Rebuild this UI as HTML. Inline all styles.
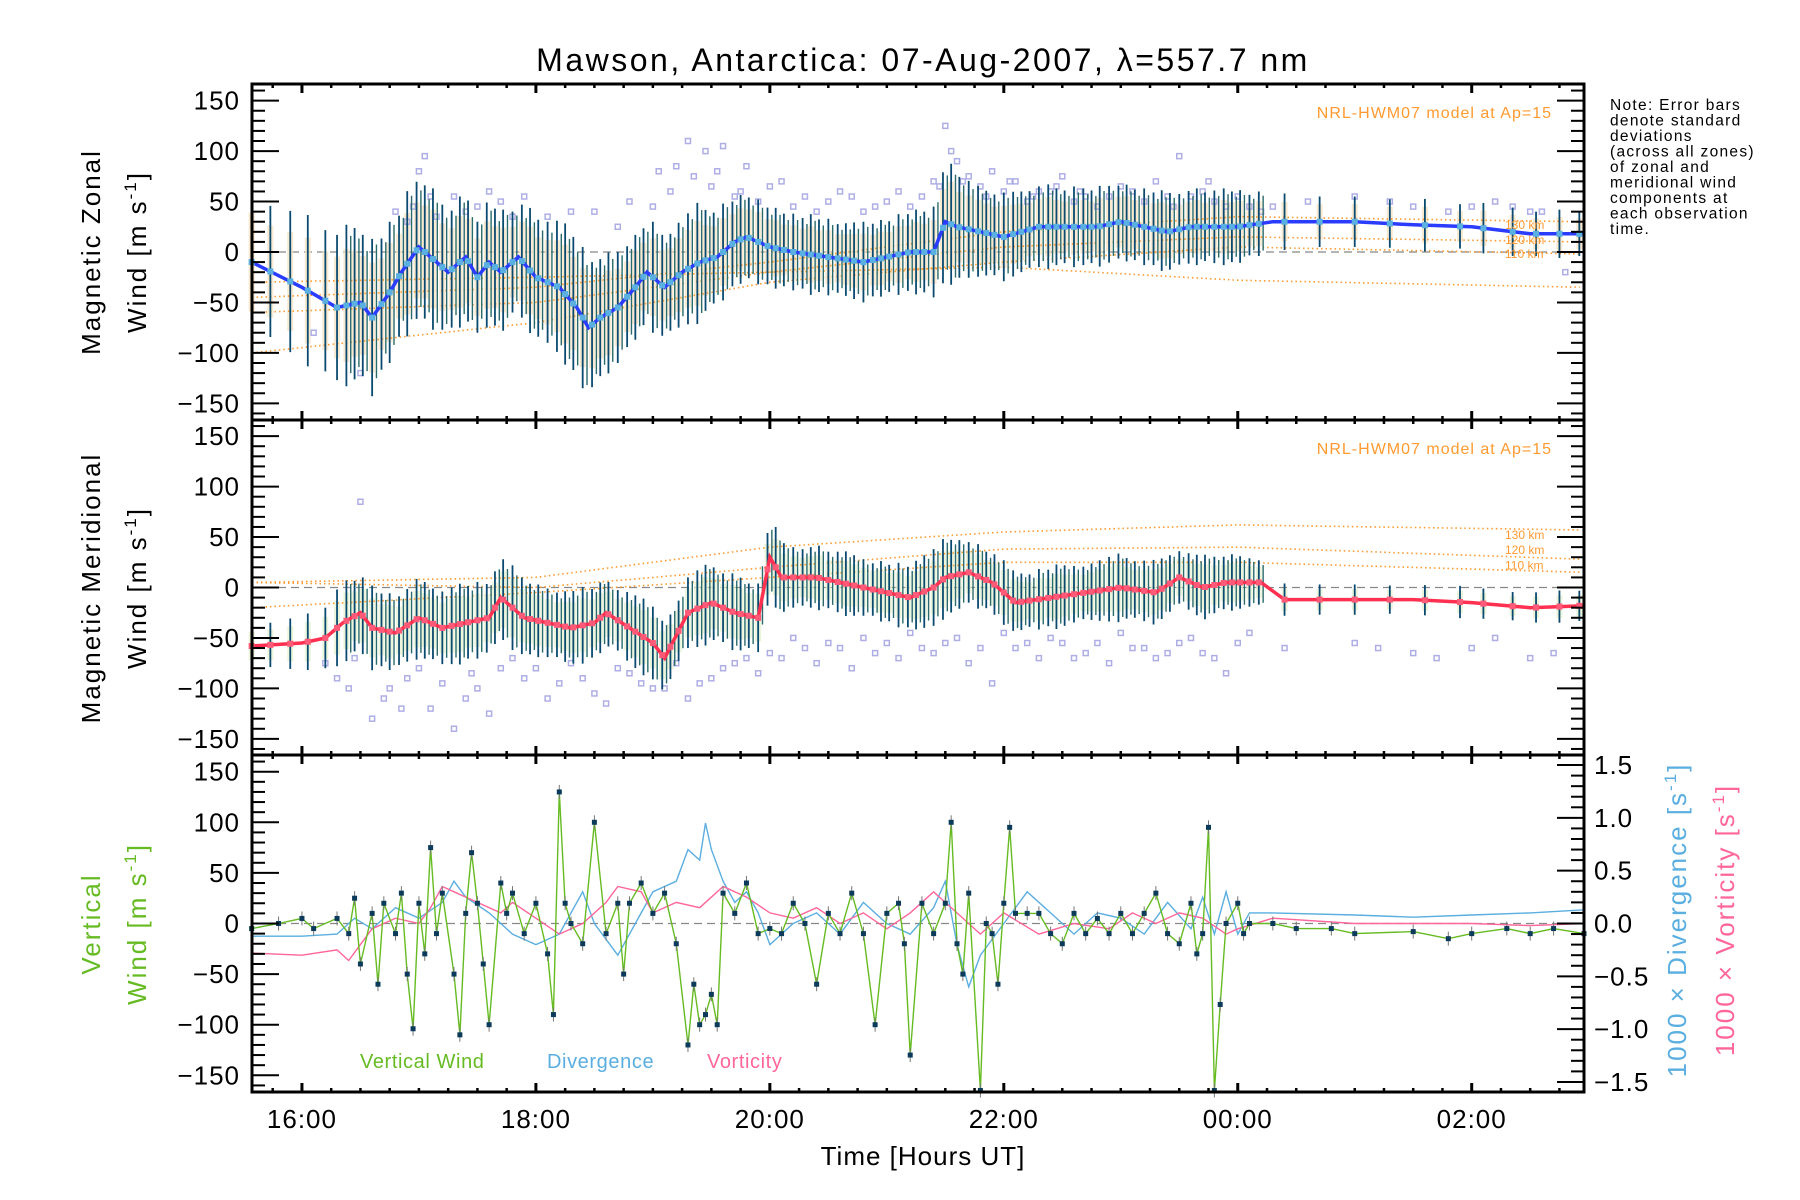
<!DOCTYPE html>
<html><head><meta charset="utf-8"><style>
body{margin:0;background:#fff;}
svg{display:block;font-family:"Liberation Sans",sans-serif;}
</style></head><body>
<svg id="chart" width="1800" height="1200" viewBox="0 0 1800 1200" xmlns="http://www.w3.org/2000/svg">
<rect width="1800" height="1200" fill="#fff"/>
<text x="923" y="71" font-size="32" letter-spacing="2.5" text-anchor="middle">Mawson, Antarctica: 07-Aug-2007, λ=557.7 nm</text>
<g id="plots"></g>
<text x="923" y="1165" font-size="26" letter-spacing="1" text-anchor="middle">Time [Hours UT]</text>
<g font-size="15.5" letter-spacing="1.3">
<text x="1610" y="110">Note: Error bars</text>
<text x="1610" y="125.5">denote standard</text>
<text x="1610" y="141">deviations</text>
<text x="1610" y="156.5">(across all zones)</text>
<text x="1610" y="172">of zonal and</text>
<text x="1610" y="187.5">meridional wind</text>
<text x="1610" y="203">components at</text>
<text x="1610" y="218.5">each observation</text>
<text x="1610" y="234">time.</text>
</g>
<text transform="translate(100,252) rotate(-90)" font-size="26" letter-spacing="2" text-anchor="middle">Magnetic Zonal</text>
<text transform="translate(146,252) rotate(-90)" font-size="26" letter-spacing="2" text-anchor="middle">Wind [m s<tspan font-size="17" dy="-10">-1</tspan><tspan dy="10">]</tspan></text>
<text transform="translate(100,588) rotate(-90)" font-size="26" letter-spacing="2" text-anchor="middle">Magnetic Meridional</text>
<text transform="translate(146,588) rotate(-90)" font-size="26" letter-spacing="2" text-anchor="middle">Wind [m s<tspan font-size="17" dy="-10">-1</tspan><tspan dy="10">]</tspan></text>
<text transform="translate(100,924) rotate(-90)" font-size="26" letter-spacing="2" text-anchor="middle" fill="#66bb22">Vertical</text>
<text transform="translate(146,924) rotate(-90)" font-size="26" letter-spacing="2" text-anchor="middle" fill="#66bb22">Wind [m s<tspan font-size="17" dy="-10">-1</tspan><tspan dy="10">]</tspan></text>
<text transform="translate(1686,920) rotate(-90)" font-size="26" letter-spacing="2" text-anchor="middle" fill="#5aaee0">1000 × Divergence [s<tspan font-size="17" dy="-10">-1</tspan><tspan dy="10">]</tspan></text>
<text transform="translate(1734,920) rotate(-90)" font-size="26" letter-spacing="2" text-anchor="middle" fill="#ff6699">1000 × Vorticity [s<tspan font-size="17" dy="-10">-1</tspan><tspan dy="10">]</tspan></text>
<text x="360" y="1068" font-size="20" letter-spacing="0.6" fill="#66bb22">Vertical Wind</text>
<text x="547" y="1068" font-size="20" letter-spacing="0.6" fill="#5aaee0">Divergence</text>
<text x="707" y="1068" font-size="20" letter-spacing="0.6" fill="#ff6699">Vorticity</text>
</svg>
<script>
const zonalT=[15.57,16.0,16.3,16.5,16.6,16.75,16.85,17.0,17.1,17.25,17.4,17.5,17.6,17.7,17.85,18.0,18.2,18.35,18.45,18.55,18.7,18.85,18.95,19.1,19.25,19.4,19.55,19.7,19.8,20.0,20.2,20.5,20.8,21.0,21.2,21.4,21.5,21.6,21.8,22.0,22.3,22.6,22.8,23.0,23.2,23.4,23.6,23.8,24.0,24.3,25.0,25.5,26.0,26.5,26.96];
const zonalV=[-10,-35,-55,-50,-65,-40,-20,5,-5,-20,-5,-25,-10,-20,-5,-25,-35,-55,-75,-65,-55,-35,-20,-35,-20,-10,-5,10,15,5,0,-5,-10,-5,0,0,30,25,20,15,25,25,25,30,25,20,25,25,25,30,30,27,25,18,18];
const merT=[15.57,16.0,16.2,16.35,16.5,16.6,16.8,17.0,17.2,17.4,17.6,17.7,17.9,18.1,18.3,18.5,18.6,18.8,19.0,19.1,19.3,19.5,19.7,19.9,20.0,20.1,20.4,20.8,21.2,21.4,21.5,21.7,21.9,22.1,22.4,22.7,23.0,23.3,23.5,23.7,23.9,24.0,24.2,24.4,25.0,25.5,26.0,26.5,26.96];
const merV=[-58,-55,-50,-35,-25,-40,-45,-30,-40,-35,-30,-10,-30,-35,-40,-35,-25,-40,-55,-70,-25,-15,-25,-30,30,10,10,0,-10,0,10,15,5,-15,-10,-5,0,-5,10,0,5,5,5,-12,-12,-12,-15,-20,-18];
const barT=[15.57,15.73,15.9,16.05,16.2,16.3,16.38,16.45,16.52,16.6,16.68,16.75,16.83,16.9,16.98,17.05,17.12,17.2,17.28,17.35,17.42,17.5,17.58,17.65,17.72,17.8,17.88,17.95,18.02,18.1,18.18,18.25,18.32,18.4,18.48,18.55,18.62,18.7,18.78,18.85,18.92,19.0,19.08,19.15,19.22,19.3,19.38,19.45,19.52,19.6,19.68,19.75,19.82,19.9,19.98,20.05,20.12,20.2,20.28,20.35,20.42,20.5,20.58,20.65,20.72,20.8,20.88,20.95,21.02,21.1,21.18,21.25,21.32,21.4,21.48,21.55,21.62,21.7,21.78,21.85,21.92,22.0,22.08,22.15,22.22,22.3,22.38,22.45,22.52,22.6,22.68,22.75,22.82,22.9,22.98,23.05,23.12,23.2,23.28,23.35,23.42,23.5,23.58,23.65,23.72,23.8,23.88,23.95,24.02,24.1,24.18,24.4,24.7,25.0,25.3,25.6,25.9,26.1,26.35,26.55,26.75,26.92];
const zonalStd=[70,65,70,75,70,72,80,75,70,78,65,70,60,72,68,66,70,62,58,65,60,55,62,58,60,50,56,62,58,60,65,70,66,70,62,58,60,55,50,52,48,55,50,48,52,55,60,50,45,48,42,44,40,42,38,40,36,38,35,40,36,38,34,36,38,40,36,38,35,40,38,42,40,45,55,60,50,48,45,42,40,44,42,40,38,40,42,38,36,40,38,36,40,38,36,38,35,38,36,40,38,35,36,38,34,36,38,35,36,30,32,28,25,25,24,26,22,25,24,22,24,22];
const merStd=[20,22,25,28,30,38,40,35,38,42,36,38,34,36,40,38,35,36,38,40,36,38,34,36,40,42,38,35,36,34,32,35,36,38,34,35,32,30,34,36,38,36,34,32,30,35,38,40,36,34,38,36,32,34,36,40,34,30,28,30,32,28,30,32,30,28,26,30,28,32,30,34,36,38,40,36,34,30,32,28,30,32,30,28,26,30,28,32,30,28,26,28,30,32,34,30,28,30,32,30,28,26,28,30,32,28,26,28,26,24,22,16,15,15,14,15,16,15,14,15,16,15];
const scatZT=[16.1,16.5,16.8,17.0,17.05,17.3,17.6,17.9,18.1,18.3,18.8,19.05,19.3,19.45,19.6,19.8,20.1,20.3,20.6,20.9,21.1,21.4,21.5,21.55,21.7,21.9,22.1,22.3,22.5,22.7,23.0,23.3,23.5,23.6,23.9,24.3,24.6,25.0,25.5,26.0,26.5,26.8,
16.9,16.95,17.1,17.15,17.4,17.5,17.7,17.8,18.5,18.7,19.0,19.15,19.2,19.35,19.5,19.55,19.7,19.75,19.9,20.0,20.2,20.4,20.5,20.7,20.8,21.0,21.2,21.3,21.45,21.6,21.65,21.8,21.85,22.0,22.05,22.2,22.25,22.4,22.45,22.6,22.65,22.8,22.9,23.1,23.2,23.4,23.45,23.7,23.75,23.8,24.0,24.1,24.2,25.3,25.8,26.2,26.35,26.6];
const scatZV=[-80,-120,40,80,95,55,60,55,35,40,50,80,110,100,105,85,70,55,60,45,60,70,125,100,75,80,70,60,75,55,65,70,95,55,45,45,50,55,45,45,40,-20,
30,45,55,35,40,45,50,35,40,25,45,60,85,75,65,80,55,60,50,65,45,40,50,55,40,50,45,55,65,90,70,65,55,60,70,50,55,60,65,50,60,45,55,60,50,55,45,60,70,50,55,45,40,50,40,50,45,40];
const scatMT=[16.2,16.4,16.5,16.6,16.7,16.9,17.1,17.3,17.5,17.7,17.9,18.1,18.3,18.5,18.7,18.9,19.1,19.3,19.5,19.7,19.9,20.1,20.3,20.5,20.7,20.9,21.1,21.3,21.5,21.7,21.9,22.1,22.3,22.5,22.7,22.9,23.1,23.3,23.5,23.7,23.9,24.4,25.0,25.5,26.0,26.5,
16.3,16.45,16.75,16.85,17.0,17.2,17.4,17.45,17.6,17.8,18.0,18.2,18.4,18.6,18.8,19.0,19.2,19.4,19.6,19.8,20.0,20.2,20.4,20.6,20.8,21.0,21.2,21.4,21.6,21.8,22.0,22.2,22.4,22.6,22.8,23.0,23.2,23.4,23.6,23.8,24.0,24.1,25.2,25.7,26.2,26.7];
const scatMV=[-75,-100,85,-130,-110,-90,-120,-140,-100,-80,-90,-110,-75,-105,-80,-95,-100,-110,-90,-75,-85,-70,-60,-55,-80,-65,-70,-60,-55,-75,-95,-60,-70,-55,-65,-75,-60,-70,-55,-65,-85,-60,-55,-65,-60,-70,
-90,-70,-100,-120,-80,-95,-110,-85,-125,-70,-80,-95,-90,-115,-85,-100,-75,-95,-80,-70,-65,-50,-75,-60,-50,-55,-45,-65,-50,-60,-45,-55,-50,-70,-55,-45,-60,-65,-50,-70,-55,-45,-60,-70,-50,-65];
const modZT=[15.57,18,20,22,24,26.96];
const modZ1=[-45,-35,-10,20,35,30];
const modZ2=[-60,-50,-20,5,15,10];
const modZ3=[-100,-70,-30,-10,5,-2];
const modZ4=[-30,-25,-20,-15,-28,-35];
const modM1=[5,10,40,55,62,57];
const modM2=[5,0,20,38,40,28];
const modM3=[-20,-5,10,25,25,15];
const vertT=[15.57,15.8,16.0,16.1,16.3,16.4,16.45,16.5,16.6,16.65,16.7,16.8,16.85,16.9,16.95,17.0,17.05,17.1,17.15,17.2,17.3,17.35,17.4,17.45,17.5,17.55,17.6,17.7,17.75,17.8,17.9,18.0,18.1,18.15,18.2,18.25,18.3,18.4,18.5,18.6,18.7,18.75,18.8,18.9,19.0,19.1,19.2,19.3,19.35,19.4,19.45,19.5,19.55,19.6,19.7,19.8,19.9,20.0,20.1,20.2,20.3,20.4,20.5,20.6,20.7,20.8,20.9,21.0,21.1,21.15,21.2,21.3,21.4,21.5,21.55,21.6,21.65,21.7,21.8,21.85,21.9,21.95,22.0,22.05,22.1,22.2,22.3,22.4,22.5,22.6,22.7,22.8,22.9,23.0,23.1,23.2,23.3,23.4,23.5,23.6,23.65,23.7,23.75,23.8,23.85,23.9,24.0,24.05,24.1,24.3,24.5,24.8,25.0,25.5,25.8,26.0,26.3,26.5,26.7,26.96];
const vertV=[-5,0,5,-5,5,-10,25,-40,10,-60,20,-10,30,-50,-104,20,-30,75,-10,30,-50,-110,10,70,20,-40,-100,40,10,30,-10,20,-30,-90,130,20,0,-20,100,-10,20,-50,20,40,10,30,-20,-120,-60,-100,-90,-70,-100,30,10,40,-10,-5,-10,20,0,-60,10,-10,30,-10,-100,10,20,-20,-130,20,-10,20,100,-20,-50,30,-165,0,-10,-60,20,95,10,10,10,-10,-20,10,-10,5,-10,10,-10,10,30,-10,-20,20,-30,-10,95,-165,-80,0,20,-10,0,0,-5,-5,-10,-8,-15,-10,-5,-10,-5,-10];
const divT=[15.57,16.0,16.3,16.45,16.6,16.8,17.0,17.2,17.3,17.4,17.6,17.8,18.0,18.2,18.4,18.5,18.7,18.9,19.0,19.2,19.3,19.4,19.45,19.5,19.6,19.7,19.8,19.9,20.0,20.2,20.4,20.6,20.8,21.0,21.2,21.4,21.5,21.6,21.7,21.8,22.0,22.2,22.4,22.6,22.8,23.0,23.2,23.4,23.6,23.7,23.8,23.9,24.0,24.1,24.3,25.0,25.5,26.0,26.5,26.96];
const divV=[-0.12,-0.12,-0.1,0.05,-0.05,0.15,0.05,0.2,0.4,0.25,0.1,-0.1,-0.2,-0.1,0.3,0.0,-0.3,0.1,0.3,0.4,0.7,0.6,0.95,0.7,0.4,0.2,0.3,0.1,-0.2,0.0,0.1,-0.1,0.2,0.0,-0.1,0.15,0.4,-0.2,-0.6,-0.3,0.0,0.3,0.1,-0.1,0.1,0.05,-0.1,0.2,-0.05,0.25,-0.1,0.3,-0.1,0.1,0.1,0.08,0.06,0.08,0.1,0.13];
const vorT=[15.57,16.0,16.3,16.4,16.5,16.6,16.8,17.0,17.1,17.2,17.3,17.5,17.7,17.8,18.0,18.2,18.4,18.6,18.7,18.9,19.0,19.2,19.4,19.6,19.8,20.0,20.2,20.4,20.6,20.8,21.0,21.2,21.4,21.6,21.8,22.0,22.3,22.6,22.9,23.1,23.3,23.5,23.7,23.9,24.0,24.3,25.0,25.5,26.0,26.5,26.96];
const vorV=[-0.28,-0.3,-0.25,-0.35,-0.2,-0.05,0.05,0.0,0.15,0.35,0.3,0.2,0.1,0.2,0.05,-0.1,0.0,0.2,0.35,0.3,0.1,0.2,0.15,0.35,0.25,0.1,0.05,0.15,0.0,0.1,-0.05,0.1,0.3,0.1,-0.1,0.1,-0.1,0.0,-0.05,0.1,0.0,0.1,0.05,-0.1,-0.05,0.05,0.0,0.0,0.0,-0.02,0.0];
const yTicks=[-150,-100,-50,0,50,100,150];
const rTicks=[-1.5,-1.0,-0.5,0.0,0.5,1.0,1.5];
const hourTicks=[16,18,20,22,24,26];
const hourLabels=["16:00","18:00","20:00","22:00","00:00","02:00"];

const NS="http://www.w3.org/2000/svg";
const L=252,R=1584,T0=15.573,T1=26.96;
const panels=[{top:84,bot:420},{top:420,bot:755},{top:755,bot:1092}];
const X=t=>L+(t-T0)/(T1-T0)*(R-L);
function Yf(p,lo,hi){return v=>p.bot-(v-lo)/(hi-lo)*(p.bot-p.top);}
const Y1=Yf(panels[0],-166.5,166.5),Y2=Yf(panels[1],-166,166),Y3=Yf(panels[2],-166.5,166.5),YR=Yf(panels[2],-1.595,1.595);
const root=document.getElementById('plots');
function el(tag,attrs,parent){const e=document.createElementNS(NS,tag);for(const k in attrs)e.setAttribute(k,attrs[k]);(parent||root).appendChild(e);return e;}
function grp(name){const g=el('g',{});


return g;}
function interp(ts,vs,t){if(t<=ts[0])return vs[0];for(let i=1;i<ts.length;i++){if(t<=ts[i]){const f=(t-ts[i-1])/(ts[i]-ts[i-1]);return vs[i-1]+f*(vs[i]-vs[i-1]);}}return vs[vs.length-1];}
function line(ts,vs,Y,attrs,name){const p=el('path',Object.assign({fill:'none',d:ts.map((t,i)=>(i?'L':'M')+X(t).toFixed(1)+' '+Y(vs[i]).toFixed(1)).join('')},attrs));


return p;}
function smoothModel(ts,vs,Y,name){const tt=[],vv=[];for(let t=T0;t<=T1;t+=0.05){tt.push(t);vv.push(interp(ts,vs,t));}return line(tt,vv,Y,{stroke:'#ff9a30','stroke-width':1.6,'stroke-dasharray':'1.5 3'},name);}

// zero lines
[[Y1,0],[Y2,1],[Y3,2]].forEach(([Y,i])=>{const z=el('line',{x1:L,x2:R,y1:Y(0),y2:Y(0),stroke:'#888','stroke-dasharray':'8 5','stroke-width':1.2});

});

// pale zone bands behind bars
const bg1=grp('zonal-zone-bands'),bg2=grp('meridional-zone-bands');
barT.forEach((t,i)=>{const m1=interp(zonalT,zonalV,t),m2=interp(merT,merV,t);
const a=el('rect',{x:X(t)-3,y:Y1(m1+zonalStd[i]*0.7),width:6,height:Y1(m1-zonalStd[i]*0.7)-Y1(m1+zonalStd[i]*0.7),fill:'#f6e3c6',opacity:0.8},bg1);


const b=el('rect',{x:X(t)-3,y:Y2(m2+merStd[i]*0.7),width:6,height:Y2(m2-merStd[i]*0.7)-Y2(m2+merStd[i]*0.7),fill:'#e6f2d2',opacity:0.8},bg2);

});

// model curves
smoothModel(modZT,modZ1,Y1,'zonal-model-130km');smoothModel(modZT,modZ2,Y1,'zonal-model-120km');smoothModel(modZT,modZ3,Y1,'zonal-model-110km');smoothModel(modZT,modZ4,Y1,'zonal-model-low');
smoothModel(modZT,modM1,Y2,'meridional-model-130km');smoothModel(modZT,modM2,Y2,'meridional-model-120km');smoothModel(modZT,modM3,Y2,'meridional-model-110km');

// scatter
const sg1=grp('zonal-zone-points');
scatZT.forEach((t,i)=>{if(scatZV[i]===undefined)return;const r=el('rect',{x:X(t)-2.5,y:Y1(scatZV[i])-2.5,width:5,height:5,fill:'none',stroke:'#aeaee6','stroke-width':1.5},sg1);

});
const sg2=grp('meridional-zone-points');
scatMT.forEach((t,i)=>{if(scatMV[i]===undefined)return;const r=el('rect',{x:X(t)-2.5,y:Y2(scatMV[i])-2.5,width:5,height:5,fill:'none',stroke:'#aeaee6','stroke-width':1.5},sg2);

});

// error bars
const eb1=grp('zonal-error-bars'),eb2=grp('meridional-error-bars');
barT.forEach((t,i)=>{const m1=interp(zonalT,zonalV,t),m2=interp(merT,merV,t);
const a=el('line',{x1:X(t),x2:X(t),y1:Y1(m1-zonalStd[i]),y2:Y1(m1+zonalStd[i]),stroke:'#0b4a70','stroke-width':1.8},eb1);


const b=el('line',{x1:X(t),x2:X(t),y1:Y2(m2-merStd[i]),y2:Y2(m2+merStd[i]),stroke:'#0b4a70','stroke-width':1.8},eb2);


if(t>16.3&&t<24.2){const t2=t+0.037,s1=zonalStd[i]*0.85,s2=merStd[i]*0.85,n1=interp(zonalT,zonalV,t2),n2=interp(merT,merV,t2);
const c=el('line',{x1:X(t2),x2:X(t2),y1:Y1(n1-s1),y2:Y1(n1+s1),stroke:'#2a6a6a','stroke-width':1.4},eb1);


const d=el('line',{x1:X(t2),x2:X(t2),y1:Y2(n2-s2),y2:Y2(n2+s2),stroke:'#2a6a6a','stroke-width':1.4},eb2);

}});

// mean lines
line(zonalT,zonalV,Y1,{stroke:'#2a3cff','stroke-width':3.5},'zonal-mean-line');
line(merT,merV,Y2,{stroke:'#ff3050','stroke-width':3.5},'meridional-mean-line');
barT.forEach(t=>{const m=el('rect',{x:X(t)-3,y:Y1(interp(zonalT,zonalV,t))-3,width:6,height:6,fill:'#5ab0e0'});


const n=el('rect',{x:X(t)-3,y:Y2(interp(merT,merV,t))-3,width:6,height:6,fill:'#ff5a78'});

});

// panel 3
line(divT,divV,YR,{stroke:'#5aaee0','stroke-width':1.4},'divergence-line');
line(vorT,vorV,YR,{stroke:'#ff6699','stroke-width':1.4},'vorticity-line');
line(vertT,vertV,Y3,{stroke:'#66bb22','stroke-width':1.4},'vertical-wind-line');
vertT.forEach((t,i)=>{const y=Y3(vertV[i]);
const e=el('line',{x1:X(t),x2:X(t),y1:y-7,y2:y+7,stroke:'#777','stroke-width':1});


const p=el('rect',{x:X(t)-2.5,y:y-2.5,width:5,height:5,fill:'#0b3a5a'});

});

// model labels
[[0,Y1],[1,Y2]].forEach(([i,Y])=>{const p=panels[i];
const t=el('text',{x:1552,y:p.top+34,'font-size':16,'letter-spacing':1,'text-anchor':'end',fill:'#ff9a30'});t.textContent='NRL-HWM07 model at Ap=15';

});
[['130 km',Y1(27)],['120 km',Y1(12)],['110 km',Y1(-2)],['130 km',Y2(52)],['120 km',Y2(37)],['110 km',Y2(22)]].forEach(([s,y])=>{const t=el('text',{x:1505,y:y+4,'font-size':12,fill:'#ff9a30'});t.textContent=s;

});

// axes
panels.forEach((p,i)=>{
const ax=grp('panel-'+(i+1)+'-axes');
el('rect',{x:L,y:p.top,width:R-L,height:p.bot-p.top,fill:'none',stroke:'#000','stroke-width':3},ax);
const Y=[Y1,Y2,Y3][i];
for(let v=-160;v<=160;v+=10){const y=Y(v);if(y<p.top+1||y>p.bot-1)continue;const maj=v%50===0;
el('line',{x1:L,x2:L+(maj?27:13),y1:y,y2:y,stroke:'#000','stroke-width':2},ax);
if(i<2)el('line',{x1:R,x2:R-(maj?27:13),y1:y,y2:y,stroke:'#000','stroke-width':2},ax);}
yTicks.forEach(v=>{const t=el('text',{x:L-12,y:Y(v)+9,'font-size':26,'letter-spacing':1,'text-anchor':'end'},ax);t.textContent=v<0?'\u2212'+(-v):String(v);

});
for(let h=15.75;h<T1;h+=0.25){const x=X(h);const maj=Math.abs(h%2)<0.01;
el('line',{x1:x,x2:x,y1:p.bot,y2:p.bot-(maj?9:4),stroke:'#000','stroke-width':maj?3:2.5},ax);
el('line',{x1:x,x2:x,y1:p.top,y2:p.top+(maj?9:4),stroke:'#000','stroke-width':maj?3:2.5},ax);}
});
const rax=grp('right-axis');
for(let v=-1.5;v<=1.501;v+=0.1){const y=YR(v);const maj=Math.abs(Math.round(v*10)%5)===0;
el('line',{x1:R,x2:R-(maj?27:13),y1:y,y2:y,stroke:'#000','stroke-width':2},rax);}
rTicks.forEach(v=>{const t=el('text',{x:R+10,y:YR(v)+9,'font-size':26,'letter-spacing':1},rax);t.textContent=(v<0?'\u2212':'')+Math.abs(v).toFixed(1);

});
hourTicks.forEach((h,i)=>{const t=el('text',{x:X(h),y:1128,'font-size':26,'letter-spacing':1,'text-anchor':'middle'});t.textContent=hourLabels[i];

});
</script>
</body></html>
